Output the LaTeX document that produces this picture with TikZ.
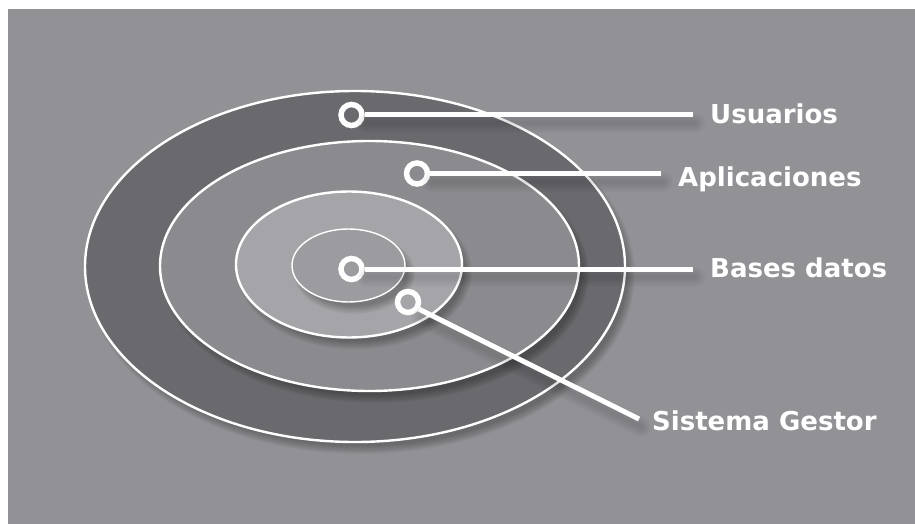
\documentclass[tikz,border=0pt]{standalone}
\usepackage{fontspec}
\setmainfont{DejaVu Sans}
\definecolor{bgc}{HTML}{929296}
\definecolor{ringA}{HTML}{6A6A6E}
\definecolor{ringB}{HTML}{8B8B8F}
\definecolor{ringC}{HTML}{A5A5A9}
\definecolor{ringD}{HTML}{9C9CA0}
\newcommand\softshade[4]{%
  \foreach \i in {1,...,9}{%
    \fill[black,opacity=0.03] (#1+6,#2+8) ellipse ({#3+\i-5} and {#4+\i-5});%
  }}
\begin{document}
\begin{tikzpicture}[x=1pt,y=-1pt,
  marker/.style={circle,draw=white,line width=5.5pt,minimum size=21pt,inner sep=0pt},
  conn/.style={white,line width=5pt},
  connshade/.style={black,opacity=0.025,line width=#1,line cap=round,transform canvas={shift={(2pt,-8pt)}}},
  lab/.style={text=white,font=\bfseries\fontsize{26}{30}\selectfont,anchor=base west,inner sep=0pt},
  ringline/.style={draw=white,line width=2.4pt}]
\useasboundingbox (0,0) rectangle (915,524);
\fill[white] (0,0) rectangle (915,524);
\fill[bgc] (8,9) rectangle (915,524);

% rings with soft shadows
\softshade{355}{266.5}{270}{175.5}
\fill[ringA] (355,266.5) ellipse (270 and 175.5);
\draw[ringline] (355,266.5) ellipse (270 and 175.5);

\softshade{369.5}{266}{209.5}{125}
\fill[ringB] (369.5,266) ellipse (209.5 and 125);
\draw[ringline] (369.5,266) ellipse (209.5 and 125);

\softshade{349}{264.5}{113}{73}
\fill[ringC] (349,264.5) ellipse (113 and 73);
\draw[ringline] (349,264.5) ellipse (113 and 73);

\softshade{348.5}{265.5}{56.5}{36.5}
\fill[ringD] (348.5,265.5) ellipse (56.5 and 36.5);
\draw[white,line width=1.4pt] (348.5,265.5) ellipse (56.5 and 36.5);

% markers
\node[marker] (mU) at (351.5,115) {};
\node[marker] (mA) at (417,173.5) {};
\node[marker] (mB) at (351.5,269) {};
\node[marker] (mS) at (408,302) {};

% line ends
\coordinate (eU) at (693,115);
\coordinate (eA) at (661,173.5);
\coordinate (eB) at (693,269);
\coordinate (eS) at (639,419);

% connector shadows (soft)
\foreach \w in {4pt,8pt,12pt,16pt,20pt}{
  \draw[connshade=\w] (mU.east) -- (eU);
  \draw[connshade=\w] (mA.east) -- (eA);
  \draw[connshade=\w] (mB.east) -- (eB);
  \draw[connshade=\w] (mS.-33) -- (eS);
}

% connectors
\draw[conn] (mU.east) -- (eU);
\draw[conn] (mA.east) -- (eA);
\draw[conn] (mB.east) -- (eB);
\draw[conn] (mS.-33) -- (eS);

% labels
\node[lab] (lU) at (710,124) {Usuarios};
\node[lab] (lA) at (678,186) {Aplicaciones};
\node[lab] (lB) at (710,277) {Bases datos};
\node[lab] (lS) at (652,430) {Sistema Gestor};
\end{tikzpicture}
\end{document}
